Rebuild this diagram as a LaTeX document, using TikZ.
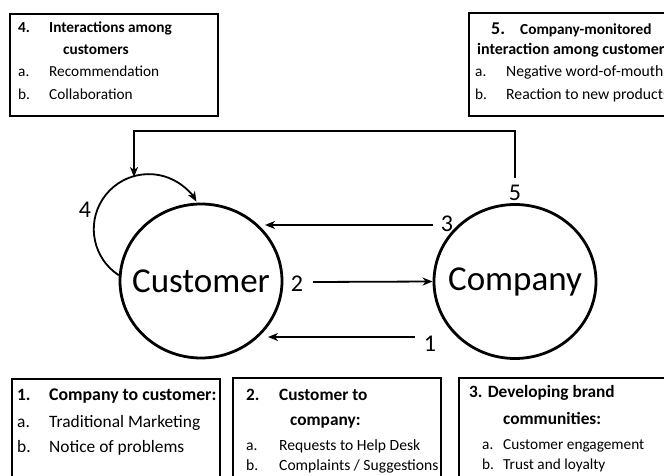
\documentclass[tikz,border=0pt]{standalone}
\usepackage{fontspec}
\setmainfont{Carlito}
\usetikzlibrary{arrows.meta,shapes.geometric}
\begin{document}
\begin{tikzpicture}[x=1pt,y=1pt,
  boxframe/.style={draw,line width=2.2pt},
  party/.style={draw,ellipse,line width=2.8pt,minimum width=162pt,minimum height=154pt,inner sep=0pt},
  partytext/.style={inner sep=0pt,font=\fontsize{35}{40}\selectfont},
  arr/.style={line width=1.8pt,-{Stealth[length=10pt,width=8pt,inset=3pt]}},
  num/.style={inner sep=1pt,font=\fontsize{24}{28}\selectfont},
  txt/.style={anchor=west,inner sep=0pt,text height=1.5ex,text depth=.25ex},
  hb/.style={txt,font=\fontsize{17.3}{20}\selectfont\bfseries},
  hs/.style={txt,font=\fontsize{15.3}{18}\selectfont\bfseries},
  it/.style={txt,font=\fontsize{15.3}{18}\selectfont},
  il/.style={txt,font=\fontsize{17.4}{20}\selectfont}]
\useasboundingbox (0,0) rectangle (664,475);
\clip (0,0) rectangle (664,475);
\fill[white] (0,0) rectangle (664,475);

% boxes
\node[boxframe,inner sep=0pt,minimum width=208pt,minimum height=102pt,anchor=north west] (box4) at (9,462) {};
\node[boxframe,inner sep=0pt,minimum width=220pt,minimum height=103pt,anchor=north west] (box5) at (468,463) {};
\node[boxframe,inner sep=0pt,minimum width=208pt,minimum height=110pt,anchor=north west] (box1) at (11,97) {};
\node[boxframe,inner sep=0pt,minimum width=208pt,minimum height=110pt,anchor=north west] (box2) at (232,98) {};
\node[boxframe,inner sep=0pt,minimum width=220pt,minimum height=110pt,anchor=north west] (box3) at (458,98) {};

% box 4 text
\node[hs] (t4n) at (18,445) {4.};
\node[hs] (t4h) at (49,445) {Interactions among};
\node[hs] (t4h2) at (63,423) {customers};
\node[it] (t4a) at (18,401) {a.};
\node[it] (t4at) at (49,401) {Recommendation};
\node[it] (t4b) at (18,378) {b.};
\node[it] (t4bt) at (49,378) {Collaboration};

% box 5 text
\node[txt,font=\fontsize{18}{20}\selectfont\bfseries] (t5n) at (491,443) {5.};
\node[hs] (t5h) at (520,443) {Company-monitored};
\node[txt,font=\fontsize{16}{18}\selectfont\bfseries] (t5h2) at (477,423) {interaction among customers};
\node[it] (t5a) at (475,401) {a.};
\node[it,font=\fontsize{15.7}{18}\selectfont] (t5at) at (506,401) {Negative word-of-mouth};
\node[it] (t5b) at (475,378) {b.};
\node[it,font=\fontsize{15.7}{18}\selectfont] (t5bt) at (506,378) {Reaction to new products};

% box 1 text
\node[hb] (t1n) at (17,77) {1.};
\node[hb,font=\fontsize{17.8}{20}\selectfont\bfseries] (t1h) at (49,77) {Company to customer:};
\node[il] (t1a) at (17,50) {a.};
\node[il] (t1at) at (49,50) {Traditional Marketing};
\node[il] (t1b) at (17,25) {b.};
\node[il] (t1bt) at (49,25) {Notice of problems};

% box 2 text
\node[hb] (t2n) at (246,77) {2.};
\node[hb] (t2h) at (279,77) {Customer to};
\node[hb] (t2h2) at (290,52) {company:};
\node[it,font=\fontsize{15.6}{18}\selectfont] (t2a) at (246,27) {a.};
\node[it,font=\fontsize{15.6}{18}\selectfont] (t2at) at (279,27) {Requests to Help Desk};
\node[it,font=\fontsize{15.6}{18}\selectfont] (t2b) at (246,7) {b.};
\node[it,font=\fontsize{15.6}{18}\selectfont] (t2bt) at (279,7) {Complaints / Suggestions};

% box 3 text
\node[hb,font=\fontsize{17.3}{20}\selectfont\bfseries] (t3h) at (469,80) {3. Developing brand};
\node[hb,font=\fontsize{17.3}{20}\selectfont\bfseries] (t3h2) at (503,53) {communities:};
\node[it] (t3a) at (482,28) {a.};
\node[it] (t3at) at (503,28) {Customer engagement};
\node[it] (t3b) at (482,8) {b.};
\node[it] (t3bt) at (503,8) {Trust and loyalty};

% parties
\node[party] (customer) at (201,194) {};
\node[partytext] (customerlabel) at (customer.center) {Customer};
\node[party] (company) at (515,193.5) {};
\node[partytext] (companylabel) at (company.center) {Company};

% number labels
\node[num] (n1) at (430,131) {1};
\node[num] (n2) at (297,191) {2};
\node[num] (n3) at (447,251) {3};
\node[num] (n4) at (85,265) {4};
\node[num] (n5) at (515,282) {5};

% connector ends
\coordinate (a1s) at (415,138);
\coordinate (a1e) at (268,138);
\coordinate (a2s) at (313,193);
\coordinate (a3s) at (433,250);
\coordinate (a3e) at (265,250);
\coordinate (a5s) at (515,297);
\coordinate (topline) at (0,344);
\coordinate (loopin) at (134,298);

% connectors
\draw[arr] (a1s) -- (a1e);
\draw[arr] (a2s) -- (company.west);
\draw[arr] (a3s) -- (a3e);
\draw[arr] (customer.176) arc[start angle=237,end angle=30,radius=55];
\draw[arr] (a5s) -- (a5s |- topline) -| (loopin);
\end{tikzpicture}
\end{document}
